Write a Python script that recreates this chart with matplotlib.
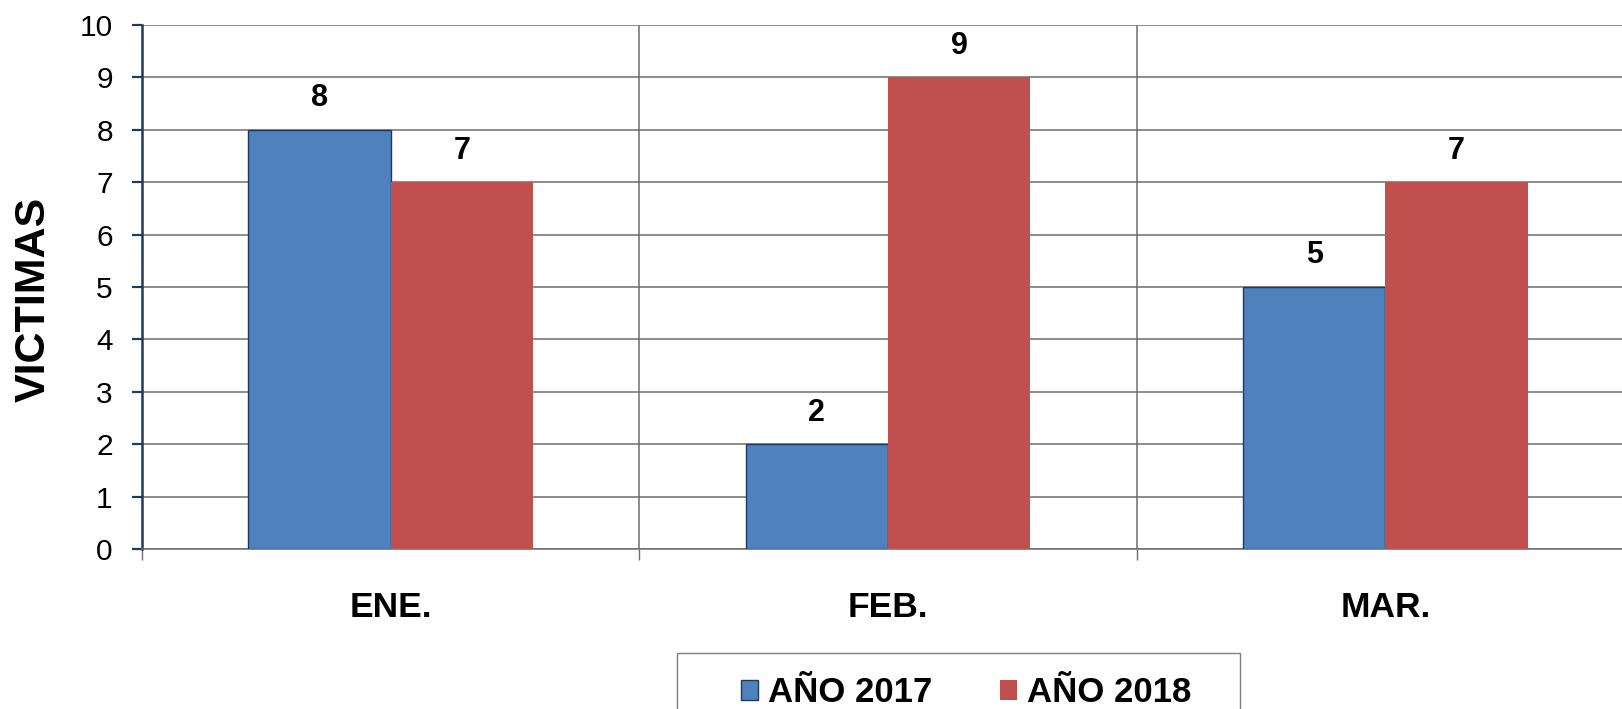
import matplotlib
matplotlib.use("Agg")
import matplotlib.pyplot as plt
from matplotlib.patches import Rectangle
import numpy as np

plt.rcParams["font.family"] = ["Liberation Sans", "DejaVu Sans"]

# ── Data ──────────────────────────────────────────────────────────────────
months = ["ENE.", "FEB.", "MAR."]
series_names = ["AÑO 2017", "AÑO 2018"]
vals_2017 = [8, 2, 5]
vals_2018 = [7, 9, 7]
yticks = list(range(0, 11))

BLUE = "#4F81BD"
RED = "#C0504D"
NAVY = "#1F3B5C"
GRID = "#6d6d6d"

# ── Figure ────────────────────────────────────────────────────────────────
W, H = 1622, 709
fig = plt.figure(figsize=(W / 100, H / 100), dpi=100)
left, right, top, bottom = 142, 1634, 25, 549
ax = fig.add_axes([left / W, 1 - bottom / H, (right - left) / W, (bottom - top) / H])

x = np.arange(len(months)) + 0.5
w = 0.286
b1 = ax.bar(x - w / 2, vals_2017, w, color=BLUE, edgecolor=NAVY, linewidth=1.0,
            label=series_names[0], zorder=3)
b2 = ax.bar(x + w / 2, vals_2018, w, color=RED, edgecolor="none",
            label=series_names[1], zorder=3)
for bars in (b1, b2):
    ax.bar_label(bars, padding=12, fontsize=22, fontweight="bold")

ax.set_xlim(0, len(months))
ax.set_ylim(0, 10)
ax.set_yticks(yticks)
ax.tick_params(axis="y", labelsize=21.5, length=7, width=1.6, color=NAVY, pad=14)

# category boundaries as major ticks, labels on minor ticks
ax.set_xticks(np.arange(len(months) + 1))
ax.set_xticklabels([])
ax.set_xticks(x, minor=True)
ax.set_xticklabels(months, minor=True, fontsize=25.5, fontweight="bold")
ax.tick_params(axis="x", which="major", length=8, width=1.0, color=GRID)
ax.tick_params(axis="x", which="minor", length=0, pad=30)

ax.grid(True, axis="both", which="major", color=GRID, linewidth=1.1)
ax.set_axisbelow(True)

for s in ("top", "right"):
    ax.spines[s].set_visible(False)
ax.spines["left"].set_color(NAVY)
ax.spines["left"].set_linewidth(1.8)
ax.spines["bottom"].set_color(GRID)
ax.spines["bottom"].set_linewidth(1.1)

ax.set_ylabel("VICTIMAS", fontsize=31, fontweight="bold")
ax.yaxis.label.set_va("center")
ax.yaxis.set_label_coords((34 - left) / (right - left), (bottom - 299) / (bottom - top))

# ── Legend (frame drawn by hand, runs off the bottom edge) ────────────────
fig.patches.append(Rectangle((677 / W, -0.05), (1240 - 677) / W, 1 - 653 / H + 0.05,
                             transform=fig.transFigure, facecolor="white",
                             edgecolor="#7f7f7f", linewidth=1.0))
fig.legend(handles=[b1, b2], labels=series_names, loc="center",
           bbox_to_anchor=(966 / W, 1 - 693 / H), ncol=2, frameon=False,
           prop={"size": 25, "weight": "bold"},
           handlelength=0.49, handleheight=0.52, handletextpad=0.29,
           columnspacing=1.96, borderpad=0)

fig.savefig("out.png", dpi=100)
